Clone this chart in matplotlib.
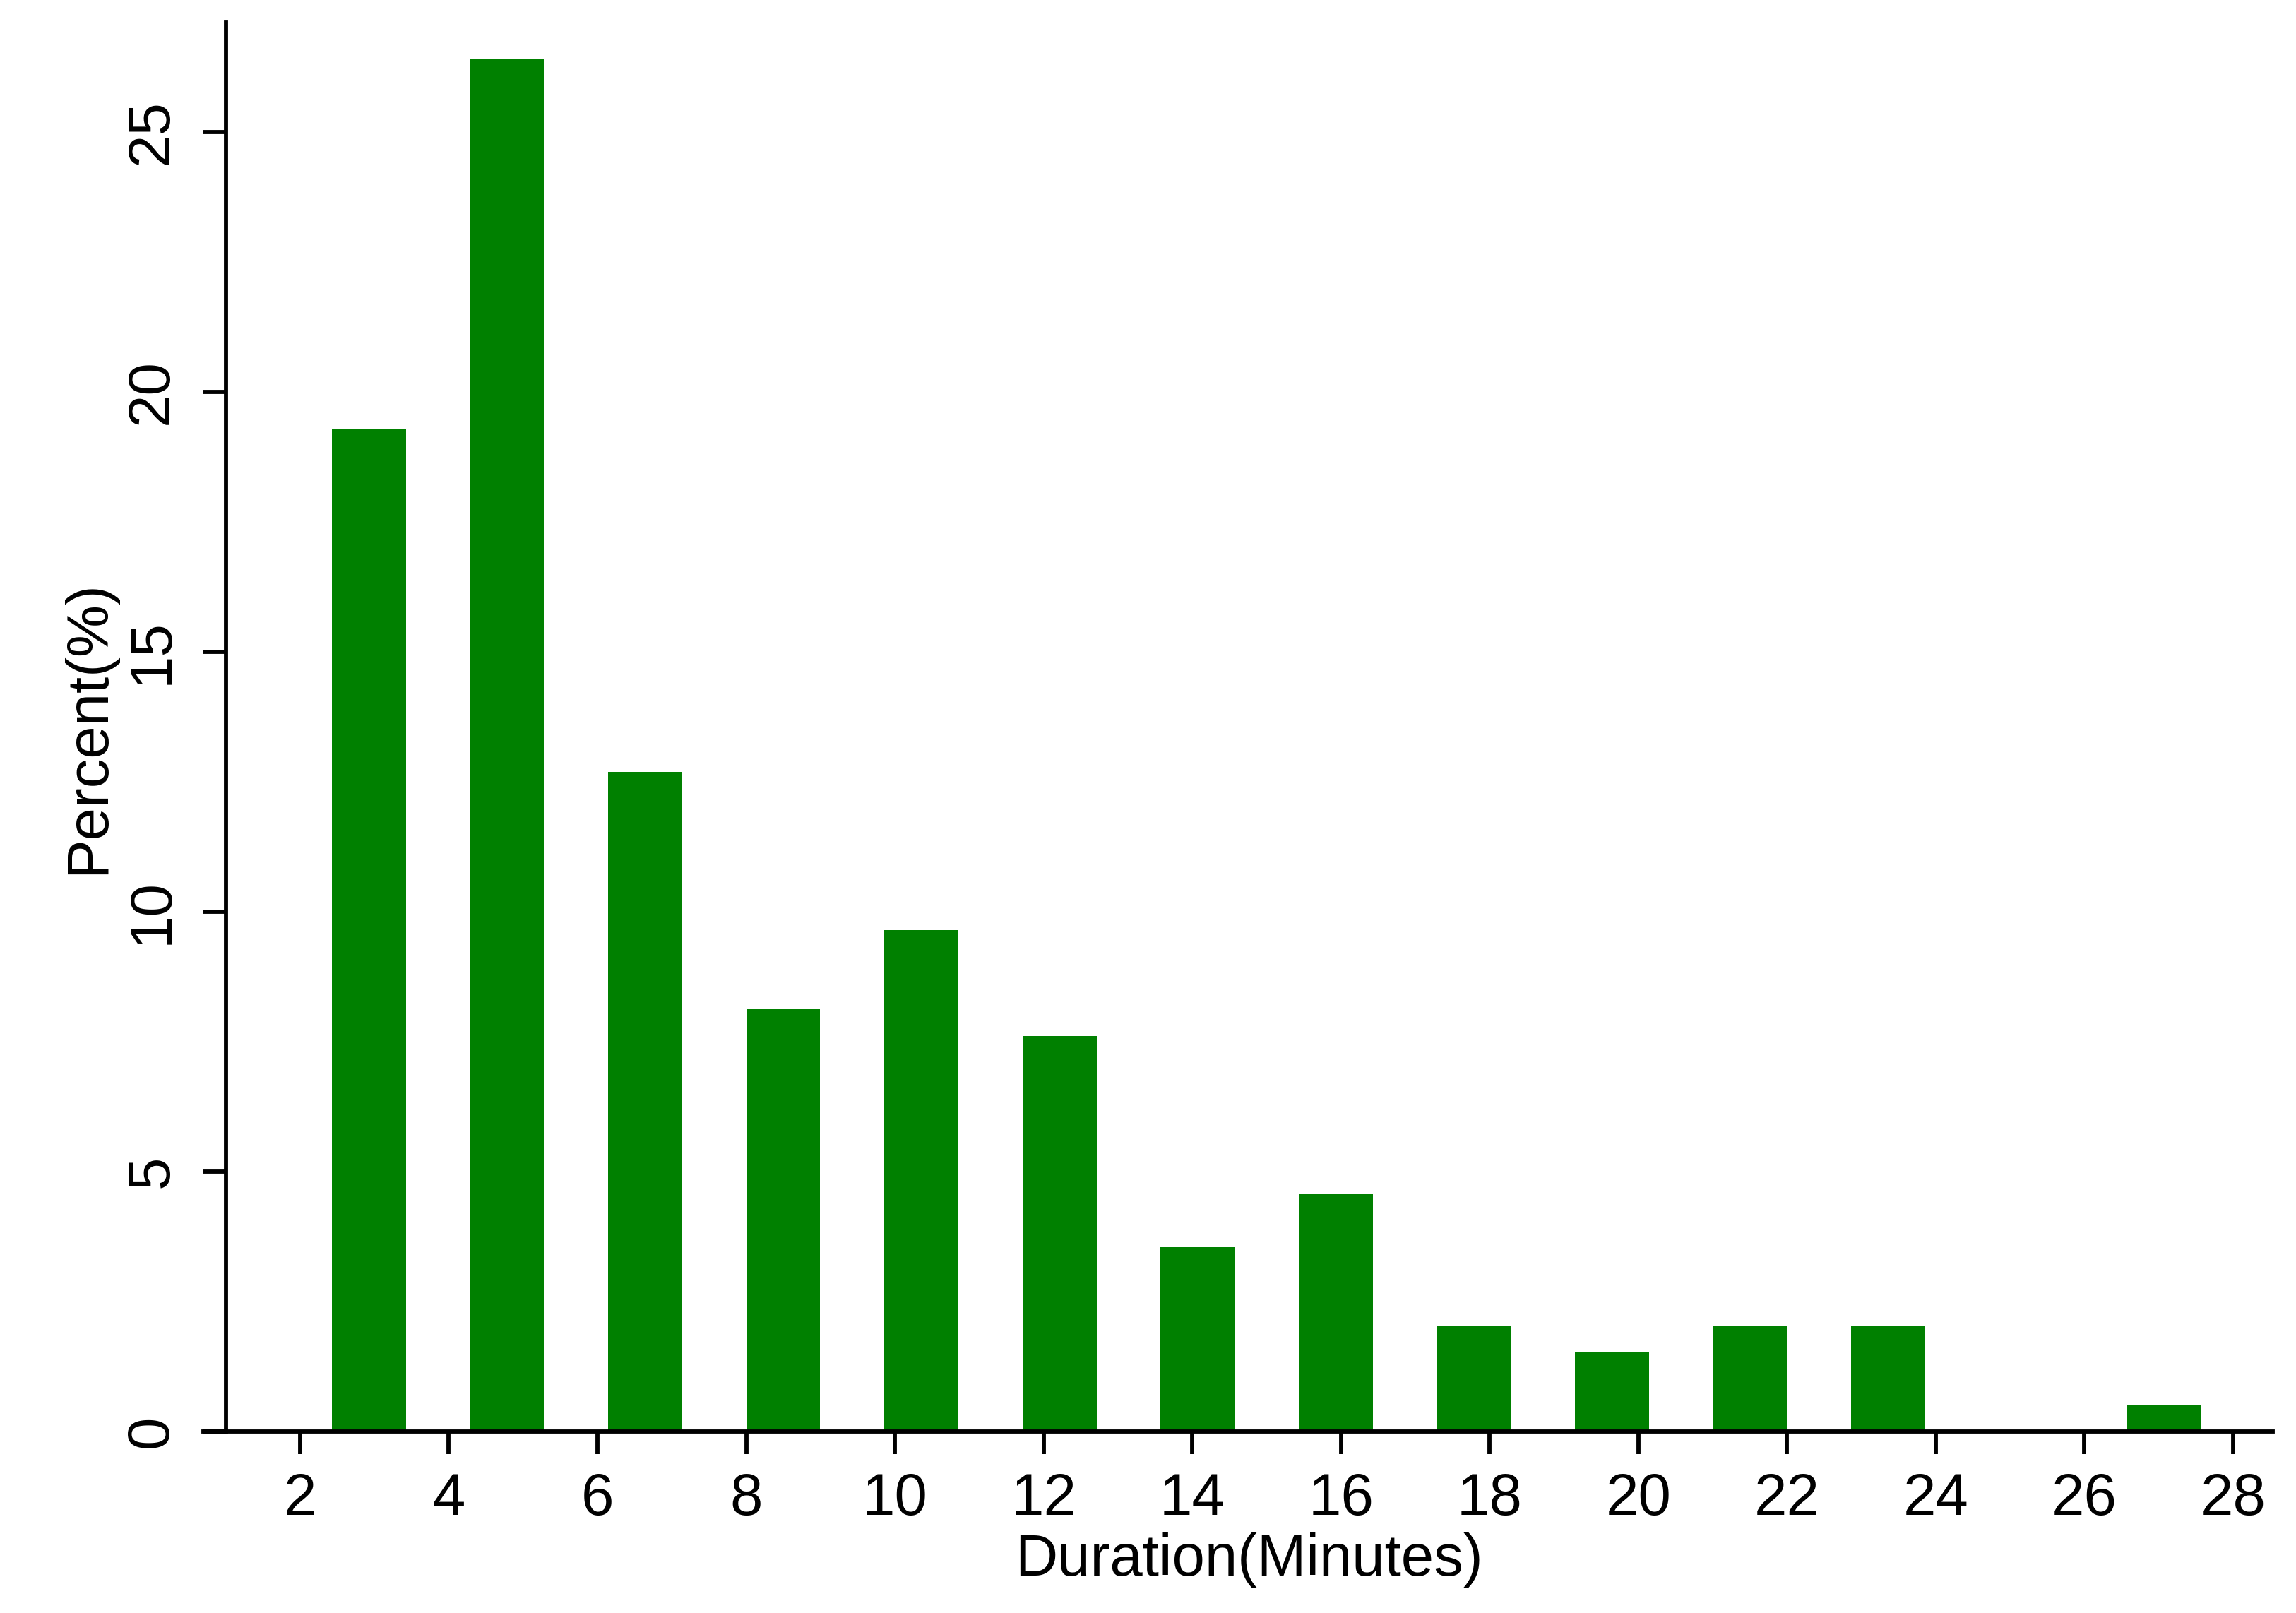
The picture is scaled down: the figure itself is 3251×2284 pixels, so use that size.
import numpy as np
import matplotlib
matplotlib.use("Agg")
import matplotlib.pyplot as plt

plt.rcParams['font.family'] = ['Liberation Sans', 'DejaVu Sans']

# histogram: 14 bins from 2 to 28 minutes
bin_edges = np.linspace(2, 28, 15)
percent = [19.29, 26.40, 12.69, 8.12, 9.64, 7.61, 3.55, 4.57,
           2.03, 1.52, 2.03, 2.03, 0.0, 0.51]
x_ticks = [2, 4, 6, 8, 10, 12, 14, 16, 18, 20, 22, 24, 26, 28]
y_ticks = [0, 5, 10, 15, 20, 25]

centers = (bin_edges[:-1] + bin_edges[1:]) / 2
bin_w = bin_edges[1] - bin_edges[0]

fig = plt.figure(figsize=(3251 / 300, 2284 / 300), dpi=300)
ax = fig.add_axes([0.0886, 0.1125, 0.9898 - 0.0886, 0.986 - 0.1125])

ax.bar(centers, percent, width=bin_w * 0.535, color='#008000', linewidth=0, zorder=2)

xmin, xmax = 0.70, 28.53
ax.set_xlim(xmin, xmax)
ax.set_ylim(0, 27.1)

for s in ['top', 'right']:
    ax.spines[s].set_visible(False)
ax.spines['left'].set_position(('data', 1.0))
for s in ['left', 'bottom']:
    ax.spines[s].set_linewidth(1.4)
    ax.spines[s].set_zorder(3)

ax.set_xticks(x_ticks)
ax.set_yticks(y_ticks)
ax.tick_params(axis='both', length=7.7, width=1.4, labelsize=20, color='black')
ax.tick_params(axis='x', pad=6)
ax.tick_params(axis='y', pad=8)
for lab in ax.get_yticklabels():
    lab.set_rotation(90)
    lab.set_va('center')

ax.set_xlabel('Duration(Minutes)', fontsize=20, labelpad=2)
ax.set_ylabel('Percent(%)', fontsize=20, labelpad=3)
# x title centred between the y axis line and the right end
spine_frac = (1.0 - xmin) / (xmax - xmin)
ax.xaxis.label.set_x((spine_frac + 1) / 2)

fig.savefig('out.png', dpi=300)
